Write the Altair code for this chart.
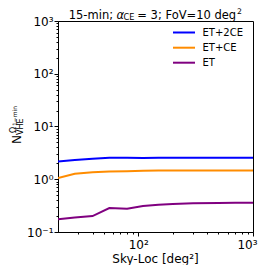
import altair as alt
import pandas as pd

# ---- data ----
sky_loc = [20, 28, 40, 56, 80, 110, 150, 200, 300, 500, 700, 1000]
et_2ce = [2.18, 2.32, 2.45, 2.55, 2.55, 2.52, 2.55, 2.55, 2.55, 2.55, 2.55, 2.55]
et_ce = [1.05, 1.27, 1.36, 1.40, 1.42, 1.45, 1.46, 1.46, 1.46, 1.46, 1.46, 1.46]
et = [0.175, 0.188, 0.20, 0.285, 0.275, 0.31, 0.33, 0.34, 0.35, 0.355, 0.36, 0.36]
series_names = ["ET+2CE", "ET+CE", "ET"]
series_colors = ["#0000ff", "#ff8c00", "#800080"]

x_ticks = [30, 40, 50, 60, 70, 80, 90, 100, 200, 300, 400, 500, 600, 700, 800, 900, 1000]
y_ticks = []
for k in [0.1, 1, 10, 100]:
    for m in range(1, 10):
        y_ticks.append(round(m * k, 6))
y_ticks.append(1000)

rows = []
for name, vals in zip(series_names, [et_2ce, et_ce, et]):
    for xv, yv in zip(sky_loc, vals):
        rows.append({"x": xv, "y": yv, "series": name})
df = pd.DataFrame(rows)

FONT = "DejaVu Sans"
major_test = "indexof([0.1, 1, 10, 100, 1000], datum.value) >= 0"
label_expr = ("datum.value == 1000 ? '10³' : datum.value == 100 ? '10²' : "
              "datum.value == 10 ? '10¹' : datum.value == 1 ? '10⁰' : "
              "datum.value == 0.1 ? '10⁻¹' : ''")

lines = alt.Chart(df).mark_line(strokeWidth=2, clip=True).encode(
    x=alt.X("x:Q",
            scale=alt.Scale(type="log", domain=[20, 1000], nice=False),
            axis=alt.Axis(values=x_ticks, labelExpr=label_expr, title=None,
                          grid=False, labelFlush=True, labelFlushOffset=4,
                          labelOverlap=False,
                          tickSize={"condition": {"test": major_test, "value": 4}, "value": 2},
                          labelPadding=3, labelFontSize=12, labelFont=FONT,
                          labelColor="black", tickColor="black", domainColor="black")),
    y=alt.Y("y:Q",
            scale=alt.Scale(type="log", domain=[0.1, 1000], nice=False),
            axis=alt.Axis(values=y_ticks, labelExpr=label_expr, title=None,
                          grid=False, labelOverlap=False,
                          tickSize={"condition": {"test": major_test, "value": 4}, "value": 2},
                          labelPadding=1, labelFontSize=12, labelFont=FONT,
                          labelColor="black", tickColor="black", domainColor="black")),
    color=alt.Color("series:N", scale=alt.Scale(domain=series_names, range=series_colors),
                    legend=None),
)

one = pd.DataFrame({"a": [0]})


def txt(s, x, y, size, angle=0, style="normal", baseline="alphabetic", align="left"):
    kw = dict(font=FONT, fontSize=size, color="black", align=align, baseline=baseline,
              fontStyle=style)
    if angle:
        kw["angle"] = angle
    return alt.Chart(one).mark_text(**kw).encode(
        x=alt.value(x), y=alt.value(y), text=alt.value(s))


layers = [lines]
# title pieces
layers += [
    txt("15-min;", 10.7, -2.5, 11.5),
    txt("α", 58.4, -2.5, 11.5, style="italic"),
    txt("CE", 65.6, -1, 8.2),
    txt("= 3; FoV=10 deg", 79.3, -2.5, 11.5),
    txt("2", 179, -7, 7.7),
]
# y label pieces
layers += [
    txt("N", -37, 123, 12, angle=270),
    txt("VHE", -35.5, 114, 8, angle=270),
    txt("Ω", -42.5, 112, 8, angle=270),
    txt("1−min", -41.5, 105, 6, angle=270),
]
# x label
layers += [txt("Sky-Loc [deg²]", 97.5, 242, 12, align="center")]

# legend
leg_y = [11.5, 26.7, 41.7]
for name, col, ly in zip(series_names, series_colors, leg_y):
    layers.append(alt.Chart(one).mark_rule(color=col, strokeWidth=2).encode(
        x=alt.value(115), x2=alt.value(137), y=alt.value(ly)))
    layers.append(txt(name, 144.5, ly, 10, baseline="middle"))

chart = alt.layer(*layers).properties(
    width=195, height=211,
    padding={"left": 50, "top": 13, "right": 5, "bottom": 33},
    autosize=alt.AutoSizeParams(type="none"),
).configure_view(stroke="black", strokeWidth=1)

chart.save("out.html", embed_options={"renderer": "svg", "actions": False})
